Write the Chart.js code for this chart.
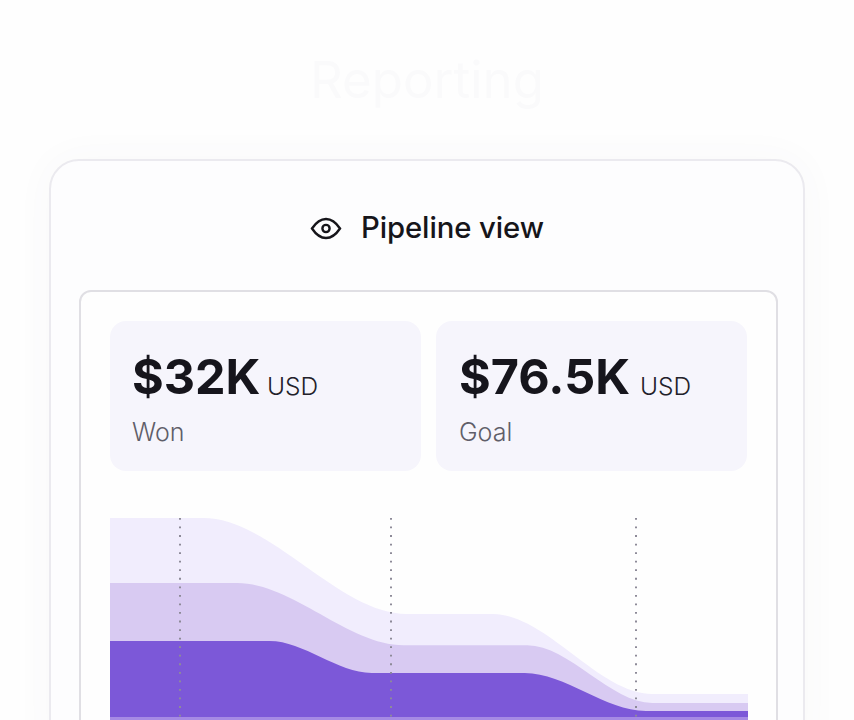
<!DOCTYPE html>
<html>
<head>
<meta charset="utf-8">
<title>Pipeline view</title>
<script src="https://cdn.jsdelivr.net/npm/chart.js@4"></script>
<style>
html, body { margin: 0; height: 720px; overflow: hidden; background: #fefefe; font-family: Inter, sans-serif; }
.abs { position: absolute; white-space: nowrap; }
#heading { left: 0; width: 854px; top: 50px; text-align: center; font-size: 51px; line-height: 60px; color: #fafafb; }
#outer { position: absolute; left: 49px; top: 159px; width: 752px; height: 600px; border: 2px solid #ebeaef; border-radius: 30px; background: #fdfdfe; box-shadow: 0 0 40px rgba(90, 85, 120, .035); }
#inner { position: absolute; left: 79px; top: 290px; width: 695px; height: 480px; border: 2px solid #e0dfe4; border-radius: 12px; background: #fefefe; }
#eye { position: absolute; left: 310px; top: 217px; }
#title { left: 361px; top: 211px; font-size: 29.3px; line-height: 34px; font-weight: 500; letter-spacing: -.1px; color: #16151a; }
.stat { position: absolute; top: 321px; width: 311px; height: 150px; border-radius: 16px; background: #f6f5fc; }
.big { font-size: 48.5px; line-height: 56px; font-weight: 700; color: #16151c; top: 349px; }
.unit { font-size: 24.5px; line-height: 30px; color: #22212a; top: 371px; font-weight: 300; }
.name { font-size: 25px; line-height: 30px; color: #5f5e69; top: 417px; font-weight: 300; }
#plot { position: absolute; left: 110px; top: 518px; }
</style>
</head>
<body>
<div class="abs" id="heading">Reporting</div>
<div id="outer"></div>
<div id="inner"></div>
<svg id="eye" width="32" height="24" viewBox="0 0 32 24" fill="none" stroke="#16151a" stroke-width="2.4">
  <path d="M2 11.5 C7 4 11 2 16 2 C21 2 25 4 30 11.5 C25 19 21 21 16 21 C11 21 7 19 2 11.5 Z"/>
  <circle cx="16" cy="11.5" r="3.6"/>
</svg>
<div class="abs" id="title">Pipeline view</div>

<div class="stat" style="left:110px"></div>
<div class="stat" style="left:436px"></div>
<div class="abs big" style="left:132px">$32K</div>
<div class="abs unit" style="left:267px">USD</div>
<div class="abs name" style="left:132px">Won</div>
<div class="abs big" style="left:459px">$76.5K</div>
<div class="abs unit" style="left:640px">USD</div>
<div class="abs name" style="left:459px">Goal</div>

<canvas id="plot" width="638" height="202"></canvas>

<script>
// valores (x e y em % do grafico)
const stageMarks = [11, 44, 82.4];

const leadX = [0, 14.6, 46.5, 60, 85, 100];
const leadY = [100, 100, 52.5, 52.5, 12.9, 12.9];

const qualifiedX = [0, 19.9, 46, 65.4, 85, 100];
const qualifiedY = [67.8, 67.8, 37, 37, 8.4, 8.4];

const wonX = [0, 25, 41, 65, 84, 100];
const wonY = [39.1, 39.1, 23.3, 23.3, 4.5, 4.5];

const baseX = [0, 100];
const baseY = [1.5, 1.5];

function pontos(xs, ys) {
    return xs.map((x, i) => ({ x: x, y: ys[i] }));
}

function serie(nome, xs, ys, cor) {
    return {
        label: nome,
        data: pontos(xs, ys),
        backgroundColor: cor,
        borderWidth: 0,
        pointRadius: 0,
        fill: 'origin',
        cubicInterpolationMode: 'monotone'
    };
}

const ctx = document.getElementById('plot');
new Chart(ctx, {
    type: 'line',
    data: {
        // o primeiro dataset fica por cima
        datasets: [
            serie('Base', baseX, baseY, '#a68ae4'),
            serie('Won', wonX, wonY, '#7c58d8'),
            serie('Qualified', qualifiedX, qualifiedY, '#d8caf2'),
            serie('Lead', leadX, leadY, '#f1edfd')
        ]
    },
    options: {
        responsive: false,
        animation: false,
        layout: { padding: 0 },
        plugins: { legend: { display: false }, tooltip: { enabled: false } },
        scales: {
            x: {
                type: 'linear',
                min: 0,
                max: 100,
                afterBuildTicks: (axis) => { axis.ticks = stageMarks.map(v => ({ value: v })); },
                ticks: { display: false },
                border: { display: false, dash: [1.8, 6.75] },
                grid: { z: 1, color: '#8d8a98', lineWidth: 2, drawTicks: false }
            },
            y: { display: false, min: 0, max: 100 }
        }
    }
});
</script>
</body>
</html>
